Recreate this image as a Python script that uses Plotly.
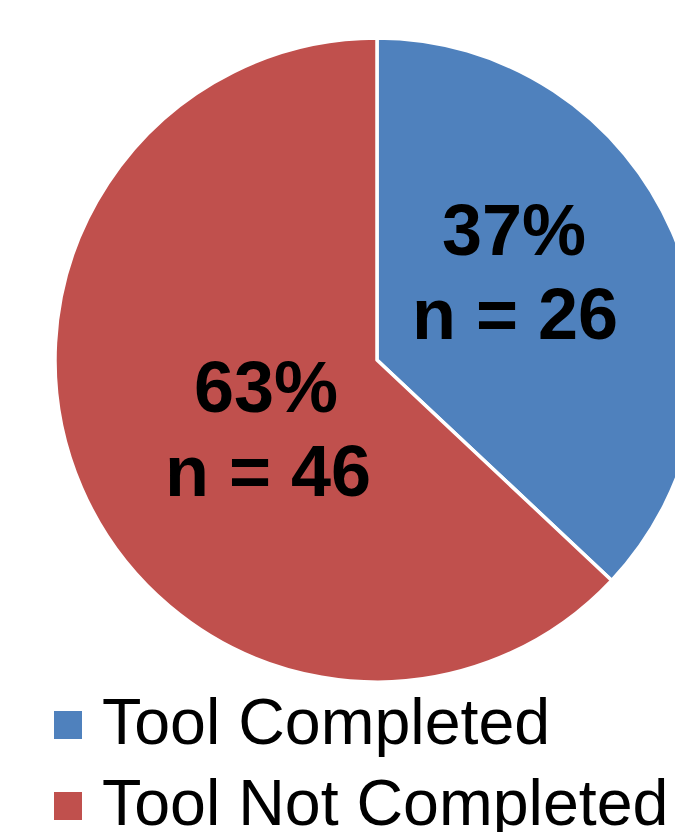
import plotly.graph_objects as go

categories = ["Tool Completed", "Tool Not Completed"]
percents = [37, 63]
counts = [26, 46]
colors = ["#4F81BD", "#C0504D"]

W, H = 700, 832
cx, cy, r = 377, 360, 322

fig = go.Figure(go.Pie(
    labels=categories,
    values=percents,
    sort=False,
    direction="clockwise",
    rotation=0,
    marker=dict(colors=colors, line=dict(color="white", width=3.5)),
    textinfo="none",
    hoverinfo="label+percent",
    showlegend=False,
    domain=dict(x=[(cx - r) / W, (cx + r) / W], y=[(H - cy - r) / H, (H - cy + r) / H]),
))

FONT = "Liberation Sans, Arial"
label_pos = [(514, 230, 515, 314), (266, 387, 268, 471)]
anns = []
for p, n, (x1, y1, x2, y2) in zip(percents, counts, label_pos):
    anns.append(dict(text=f"{p}%", x=x1 / W, y=1 - y1 / H, xref="paper", yref="paper",
                     xanchor="center", yanchor="middle", showarrow=False,
                     font=dict(family=FONT, size=72, color="black", weight="bold")))
    anns.append(dict(text=f"n = {n}", x=x2 / W, y=1 - y2 / H, xref="paper", yref="paper",
                     xanchor="center", yanchor="middle", showarrow=False,
                     font=dict(family=FONT, size=72, color="black", weight="bold")))

# custom legend (square swatches + labels)
shapes = []
row_centers = [722, 803]
for name, col, yc in zip(categories, colors, row_centers):
    shapes.append(dict(type="rect", xref="paper", yref="paper",
                       x0=54 / W, x1=82 / W, y0=1 - (yc - 11 + 28) / H, y1=1 - (yc - 11) / H,
                       fillcolor=col, line=dict(width=0)))
    anns.append(dict(text=name, x=100 / W, y=1 - yc / H, xref="paper", yref="paper",
                     xanchor="left", yanchor="middle", showarrow=False,
                     font=dict(family=FONT, size=64.5, color="black")))

fig.update_layout(
    width=W, height=H,
    margin=dict(l=0, r=0, t=0, b=0, autoexpand=False),
    paper_bgcolor="white",
    annotations=anns,
    shapes=shapes,
    showlegend=False,
)

fig.write_html("out.html", post_script="document.body.style.overflow='hidden';document.documentElement.style.overflow='hidden';")
